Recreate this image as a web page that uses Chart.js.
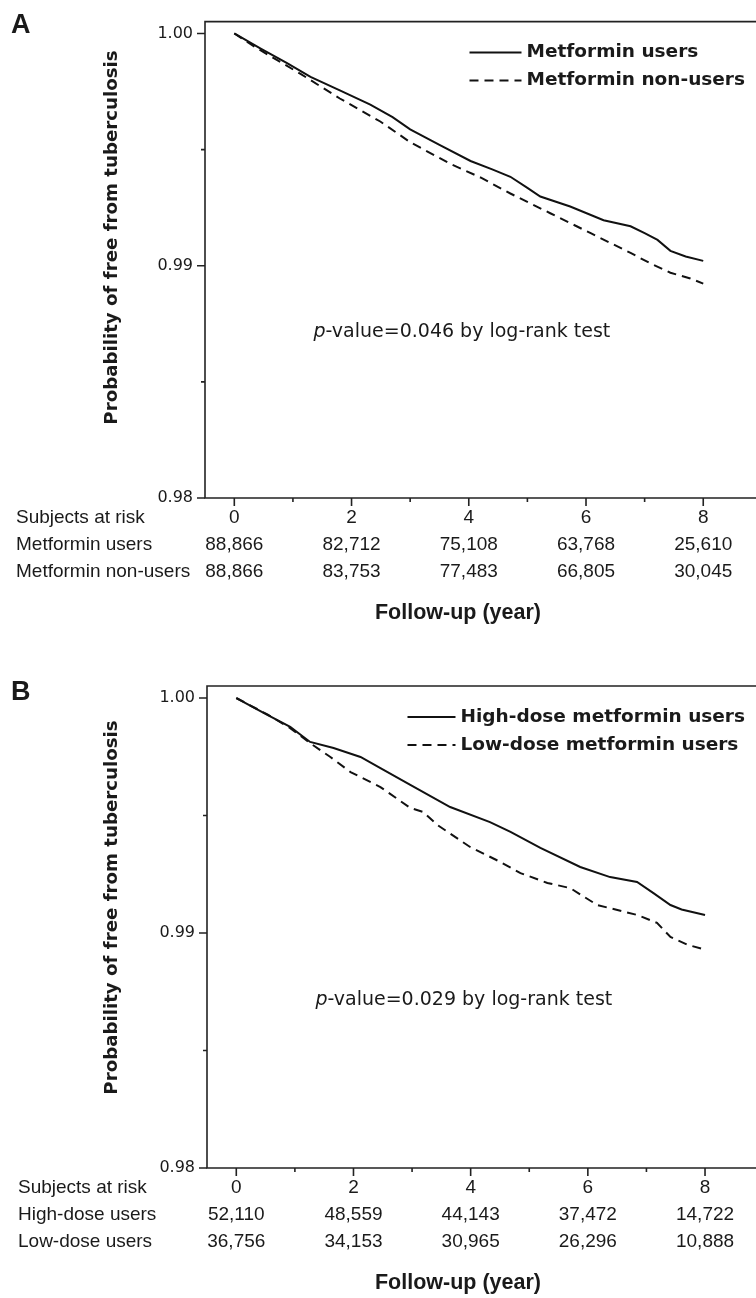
<!DOCTYPE html>
<html>
<head>
<meta charset="utf-8">
<script src="https://cdn.jsdelivr.net/npm/chart.js@4.4.1/dist/chart.umd.min.js"></script>
<style>
  html, body { margin: 0; padding: 0; background: #fff; overflow: hidden; }
  canvas { position: absolute; left: 0; display: block; }
  #chartA { top: 0; }
  #chartB { top: 640px; }
</style>
</head>
<body>
<canvas id="chartA" width="756" height="640"></canvas>
<canvas id="chartB" width="756" height="658"></canvas>
<script>
// axis ticks
const xTicks = [0, 1, 2, 3, 4, 5, 6, 7, 8];
const yTicks = [0.98, 0.985, 0.99, 0.995, 1.00];
const riskYears = [0, 2, 4, 6, 8];

// panel A: metformin users vs non-users
const timeUsers = [0, 0.45, 0.9, 1.3, 1.8, 2.32, 2.7, 3.0, 3.5, 4.03, 4.4, 4.71, 5.0, 5.22, 5.73, 6.3, 6.76, 7.0, 7.22, 7.44, 7.7, 8.0];
const survUsers = [1.0, 0.99935, 0.99872, 0.99813, 0.99755, 0.99694, 0.9964, 0.99587, 0.9952, 0.99451, 0.99415, 0.99383, 0.99335, 0.99298, 0.99255, 0.99196, 0.9917, 0.9914, 0.99111, 0.99064, 0.9904, 0.99021];
const timeNonUsers = [0, 0.39, 1.13, 1.8, 2.49, 3.0, 3.69, 4.2, 4.71, 5.39, 6.08, 6.76, 7.1, 7.44, 7.78, 8.0];
const survNonUsers = [1.0, 0.99936, 0.99826, 0.9972, 0.99621, 0.99532, 0.99438, 0.9938, 0.99311, 0.99226, 0.9914, 0.99055, 0.9901, 0.9897, 0.98945, 0.98923];
const riskUsers = ["88,866", "82,712", "75,108", "63,768", "25,610"];
const riskNonUsers = ["88,866", "83,753", "77,483", "66,805", "30,045"];

// panel B: high-dose vs low-dose
const timeHigh = [0, 0.53, 0.92, 1.26, 1.66, 2.12, 2.46, 2.97, 3.65, 4.33, 4.68, 5.19, 5.87, 6.38, 6.84, 7.12, 7.41, 7.6, 8.0];
const survHigh = [1.0, 0.99928, 0.99877, 0.99813, 0.99787, 0.99749, 0.99702, 0.9963, 0.99536, 0.99472, 0.9943, 0.99362, 0.99281, 0.99238, 0.99217, 0.9917, 0.99119, 0.991, 0.99077];
const timeLow = [0, 0.53, 0.92, 1.26, 1.6, 1.95, 2.46, 2.97, 3.19, 3.43, 3.99, 4.51, 4.85, 5.31, 5.7, 6.16, 6.84, 7.18, 7.41, 7.7, 8.02];
const survLow = [1.0, 0.9993, 0.99872, 0.99808, 0.9975, 0.99685, 0.99621, 0.99532, 0.99515, 0.9946, 0.99366, 0.99302, 0.99255, 0.99213, 0.99191, 0.99119, 0.99077, 0.99043, 0.98983, 0.9895, 0.98928];
const riskHigh = ["52,110", "48,559", "44,143", "37,472", "14,722"];
const riskLow = ["36,756", "34,153", "30,965", "26,296", "10,888"];

const SANS = "'Liberation Sans', Arial, sans-serif";
const WIDE = "'DejaVu Sans', Verdana, sans-serif";
const INK = "#1a1a1a";

function toPoints(times, vals) {
    return times.map((t, i) => ({ x: t, y: vals[i] }));
}

const panelText = {
    id: "panelText",
    afterDraw(chart, args, o) {
        const ctx = chart.ctx;
        const area = chart.chartArea;
        const xs = chart.scales.x;
        const ys = chart.scales.y;
        ctx.save();

        // frame (right side runs off the page)
        ctx.strokeStyle = "#222";
        ctx.lineWidth = 1.6;
        ctx.beginPath();
        ctx.moveTo(chart.width, area.top);
        ctx.lineTo(area.left, area.top);
        ctx.lineTo(area.left, area.bottom);
        ctx.lineTo(chart.width, area.bottom);
        ctx.stroke();

        // tick marks, longer on labelled ticks
        ctx.lineWidth = 1.6;
        ctx.beginPath();
        xTicks.forEach(v => {
            const px = xs.getPixelForValue(v);
            ctx.moveTo(px, area.bottom);
            ctx.lineTo(px, area.bottom + (v % 2 === 0 ? 8 : 4));
        });
        yTicks.forEach((v, i) => {
            const py = ys.getPixelForValue(v);
            ctx.moveTo(area.left, py);
            ctx.lineTo(area.left - (i % 2 === 0 ? 8 : 4), py);
        });
        ctx.stroke();

        ctx.fillStyle = INK;

        // panel letter
        ctx.font = "bold 27px " + SANS;
        ctx.textAlign = "left";
        ctx.textBaseline = "alphabetic";
        ctx.fillText(o.letter, 11, o.letterY);

        // legend
        ctx.font = "bold 18.5px " + WIDE;
        ctx.textBaseline = "middle";
        const sets = chart.data.datasets;
        const maxW = Math.max(...sets.map(d => ctx.measureText(d.label).width));
        const textX = o.legendRight - maxW;
        sets.forEach((d, i) => {
            const y = area.top + 31 + i * 28;
            ctx.strokeStyle = d.borderColor;
            ctx.lineWidth = 2;
            ctx.setLineDash(d.borderDash || []);
            ctx.beginPath();
            ctx.moveTo(textX - o.legendLine - 5, y);
            ctx.lineTo(textX - 5, y);
            ctx.stroke();
            ctx.setLineDash([]);
            ctx.fillText(d.label, textX, y);
        });

        // p-value note
        const px = xs.getPixelForValue(o.pAt[0]);
        const py = ys.getPixelForValue(o.pAt[1]);
        ctx.font = "italic 19px " + WIDE;
        ctx.fillText("p", px, py);
        const pw = ctx.measureText("p").width;
        ctx.font = "19px " + WIDE;
        ctx.fillText(o.pText, px + pw, py);

        // risk table row labels
        ctx.font = "19px " + SANS;
        o.rows.forEach((r, i) => {
            ctx.fillText(r, o.rowX, area.bottom + 20 + i * 27);
        });

        // x title
        ctx.font = "bold 21.5px " + SANS;
        ctx.textAlign = "center";
        ctx.fillText(o.xTitle, 458, area.bottom + 115);

        // y title
        ctx.translate(117, o.yTitleY);
        ctx.rotate(-Math.PI / 2);
        ctx.font = "bold 18.2px " + WIDE;
        ctx.textBaseline = "alphabetic";
        ctx.fillText(o.yTitle, 0, 0);
        ctx.restore();
    }
};

function makeChart(id, cfg) {
    const risk = riskYears.map((yr, i) => [String(yr), cfg.riskA[i], cfg.riskB[i]]);
    return new Chart(document.getElementById(id), {
        type: "line",
        data: {
            datasets: [
                {
                    label: cfg.labels[0],
                    data: toPoints(cfg.t1, cfg.s1),
                    borderColor: "#111",
                    borderWidth: 2
                },
                {
                    label: cfg.labels[1],
                    data: toPoints(cfg.t2, cfg.s2),
                    borderColor: "#111",
                    borderWidth: 2,
                    borderDash: [9, 6]
                }
            ]
        },
        options: {
            responsive: false,
            animation: false,
            layout: { padding: { top: cfg.top, left: 0, right: 0, bottom: 0 } },
            elements: { point: { radius: 0 }, line: { tension: 0 } },
            plugins: {
                legend: { display: false },
                tooltip: { enabled: false },
                panelText: {
                    letter: cfg.letter,
                    letterY: cfg.letterY,
                    legendRight: 745,
                    legendLine: cfg.legendLine,
                    pAt: [1.35, 0.98715],
                    pText: cfg.pText,
                    rows: cfg.rows,
                    rowX: cfg.rowX,
                    xTitle: "Follow-up (year)",
                    yTitle: "Probability of free from tuberculosis",
                    yTitleY: cfg.yTitleY
                }
            },
            scales: {
                x: {
                    type: "linear",
                    min: -0.5,
                    max: cfg.xMax,
                    border: { display: false },
                    grid: { display: false, drawTicks: false },
                    afterBuildTicks: s => { s.ticks = xTicks.map(v => ({ value: v })); },
                    afterFit: s => { s.height = cfg.xHeight; },
                    ticks: {
                        autoSkip: false,
                        maxRotation: 0,
                        padding: 6.5,
                        color: INK,
                        font: { family: SANS, size: 19, lineHeight: "27px" },
                        callback: v => {
                            const k = riskYears.indexOf(v);
                            return k < 0 ? "" : risk[k];
                        }
                    }
                },
                y: {
                    type: "linear",
                    min: 0.98,
                    max: 1.000511,
                    border: { display: false },
                    grid: { display: false, drawTicks: false },
                    afterBuildTicks: s => { s.ticks = yTicks.map(v => ({ value: v })); },
                    afterFit: s => { s.width = cfg.left; },
                    ticks: {
                        autoSkip: false,
                        padding: 12,
                        color: INK,
                        font: { family: WIDE, size: 16 },
                        callback: v => Math.abs(v * 100 - Math.round(v * 100)) < 1e-6 ? v.toFixed(2) : ""
                    }
                }
            }
        },
        plugins: [panelText]
    });
}

makeChart("chartA", {
    letter: "A", letterY: 33, top: 16, left: 205, xMax: 8.9, xHeight: 142,
    labels: ["Metformin users", "Metformin non-users"],
    t1: timeUsers, s1: survUsers, t2: timeNonUsers, s2: survNonUsers,
    riskA: riskUsers, riskB: riskNonUsers,
    rows: ["Subjects at risk", "Metformin users", "Metformin non-users"], rowX: 16,
    pText: "-value=0.046 by log-rank test",
    legendLine: 52, yTitleY: 237.5
});

makeChart("chartB", {
    letter: "B", letterY: 60, top: 46, left: 207, xMax: 8.87, xHeight: 130,
    labels: ["High-dose metformin users", "Low-dose metformin users"],
    t1: timeHigh, s1: survHigh, t2: timeLow, s2: survLow,
    riskA: riskHigh, riskB: riskLow,
    rows: ["Subjects at risk", "High-dose users", "Low-dose users"], rowX: 18,
    pText: "-value=0.029 by log-rank test",
    legendLine: 48, yTitleY: 267.5
});
</script>
</body>
</html>
